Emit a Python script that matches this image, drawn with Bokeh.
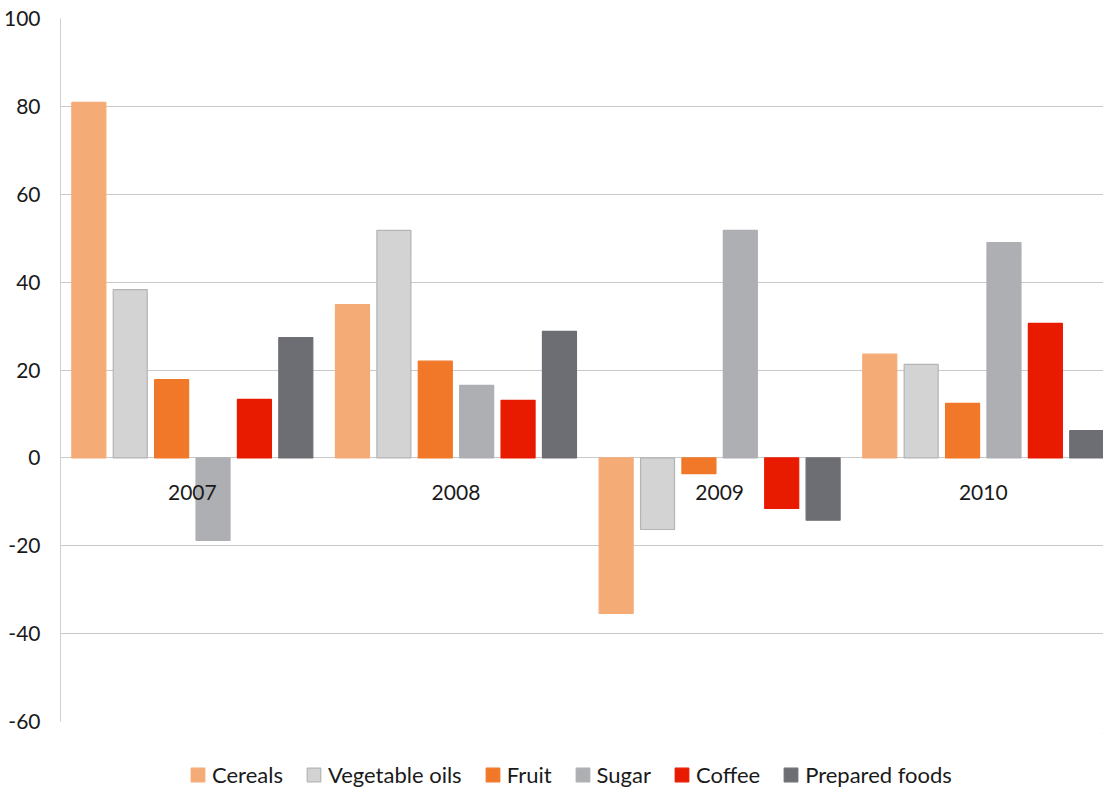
from bokeh.plotting import figure
from bokeh.layouts import column
from bokeh.models import (ColumnDataSource, Legend, LegendItem, FixedTicker,
                          Range1d, CustomJSTickFormatter)
from bokeh.transform import dodge
from bokeh.core.properties import value
from bokeh.embed import file_html
from bokeh.resources import INLINE

years = ["2007", "2008", "2009", "2010"]
series = ["Cereals", "Vegetable oils", "Fruit", "Sugar", "Coffee", "Prepared foods"]
cereals = [80.9, 34.9, -35.4, 23.6]
vegetable_oils = [38.3, 51.8, -16.3, 21.3]
fruit = [17.8, 22.0, -3.6, 12.4]
sugar = [-18.8, 16.5, 51.8, 49.0]
coffee = [13.3, 13.1, -11.5, 30.6]
prepared_foods = [27.4, 28.8, -14.2, 6.2]
y_ticks = [-60, -40, -20, 0, 20, 40, 60, 80, 100]

values = [cereals, vegetable_oils, fruit, sugar, coffee, prepared_foods]
fills = ["#F5AB76", "#D3D3D4", "#F07828", "#AEAFB2", "#E81A00", "#6D6E73"]
lines = ["#F5AB76", "#B3B4B7", "#F07828", "#AEAFB2", "#E81A00", "#6D6E73"]

FONT = "Lato"

# group slots: one unit per year; the chart is cropped slightly on the right like the original
n = len(years)
p = figure(x_range=Range1d(0, n * 0.989),
           y_range=Range1d(-60, 100),
           width=1103, height=733, output_backend="svg", toolbar_location=None,
           min_border_left=49, min_border_right=0, min_border_top=18, min_border_bottom=12)
p.outline_line_color = None
p.background_fill_color = "white"

src = ColumnDataSource(dict(year=years, slot=[i + 0.5 for i in range(n)],
                            **{f"s{i}": v for i, v in enumerate(values)}))

step = 0.157
for i, name in enumerate(series):
    off = (i - 2.5) * step
    p.vbar(x=dodge("slot", off), top=f"s{i}", bottom=0, width=0.129,
           source=src, fill_color=fills[i], line_color=lines[i], line_width=1.2)

# year labels just below zero line
lbl = ColumnDataSource(dict(year=years, slot=[i + 0.5 for i in range(n)], y=[0] * n))
p.text(x="slot", y="y", text="year", source=lbl, text_align="center", text_baseline="middle",
       y_offset=35, text_font=value(FONT), text_font_size="21px", text_color="#1a1a1a")

p.xaxis.visible = False
p.xgrid.visible = False
p.ygrid.grid_line_color = "#C9C9C9"
p.ygrid.grid_line_width = 1

p.yaxis.ticker = FixedTicker(ticks=y_ticks)
p.yaxis.formatter = CustomJSTickFormatter(code="return tick.toFixed(0);")
p.yaxis.major_tick_line_color = None
p.yaxis.minor_tick_line_color = None
p.yaxis.axis_line_color = "#D0D0D0"
p.yaxis.major_label_text_font = FONT
p.yaxis.major_label_text_font_size = "21px"
p.yaxis.major_label_text_color = "#1a1a1a"
p.yaxis.major_label_standoff = 14

# legend strip below the chart (legend swatches only; dummy bars lie outside its range)
lg = figure(width=1103, height=56, output_backend="svg", toolbar_location=None,
            x_range=Range1d(0, 1), y_range=Range1d(0, 1),
            min_border_left=0, min_border_right=0, min_border_top=0, min_border_bottom=0)
lg.axis.visible = False
lg.grid.visible = False
lg.outline_line_color = None
dummy = ColumnDataSource(dict(x=[10], top=[10]))
items = []
for i, name in enumerate(series):
    r = lg.vbar(x="x", top="top", bottom=9, width=0.1, source=dummy,
                fill_color=fills[i], line_color=lines[i], line_width=1.2)
    items.append(LegendItem(label=name, renderers=[r]))

legend = Legend(items=items, orientation="horizontal", location=(129, 1),
                glyph_width=17, glyph_height=17, label_standoff=6, spacing=22,
                label_height=26, padding=0, margin=0, border_line_color=None,
                background_fill_alpha=0,
                label_text_font=FONT, label_text_font_size="22px", label_text_color="#1a1a1a")
lg.add_layout(legend, "center")

layout = column(p, lg, spacing=0)
open("out.html", "w").write(file_html(layout, INLINE))
